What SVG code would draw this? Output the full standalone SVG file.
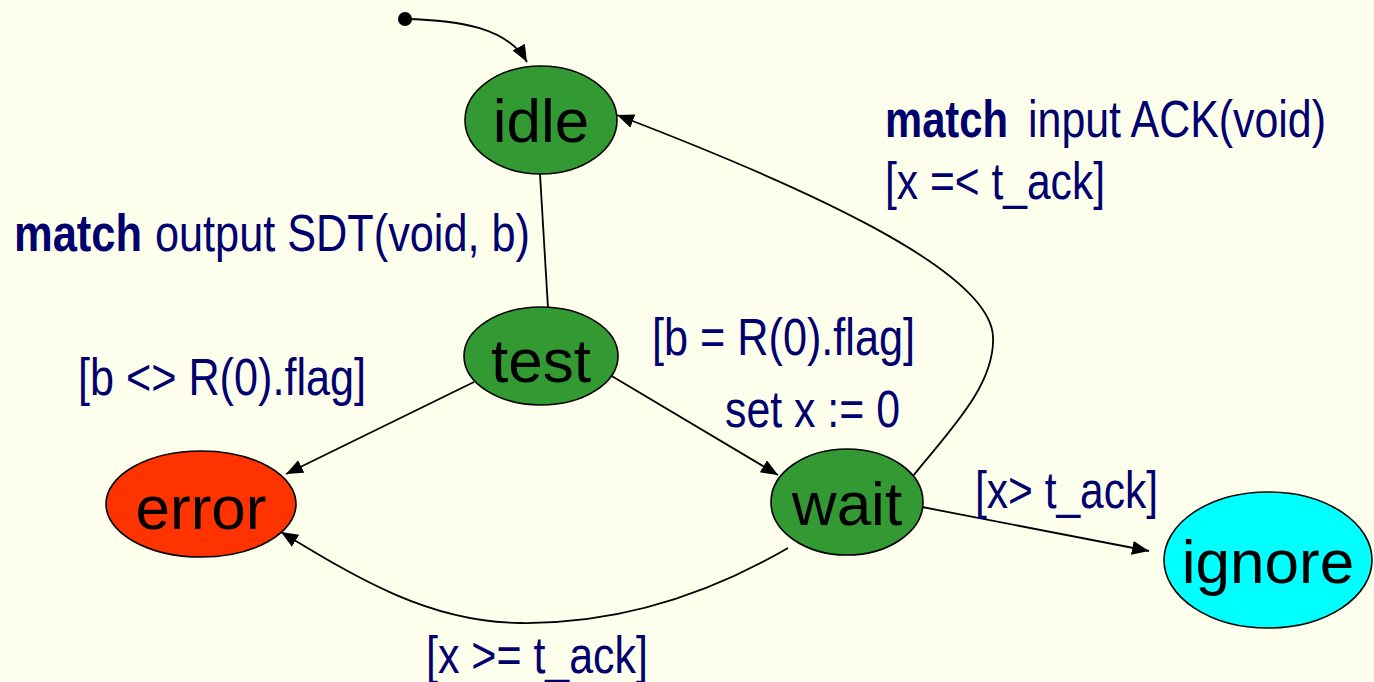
<svg xmlns="http://www.w3.org/2000/svg" width="1374" height="682" viewBox="0 0 1374 682">
<style>
.node ellipse{stroke:#000;stroke-width:1.6}
.nt{font-family:"Liberation Sans",Arial,sans-serif;font-size:62px;fill:#000;text-anchor:middle}
.lb{font-family:"Liberation Sans Narrow","Liberation Sans",Arial,sans-serif;font-size:52px;fill:#00006e}
.b{font-weight:bold}
#connectors path,#connectors line{fill:none;stroke:#000;stroke-width:1.8}
</style>
<defs>
<marker id="ah" markerUnits="userSpaceOnUse" markerWidth="20" markerHeight="16" refX="17" refY="7" orient="auto">
<path d="M0,0 L17,7 L0,14 Z" fill="#000"/>
</marker>
</defs>
<rect width="1374" height="682" fill="#fefeec"/>
<g id="connectors">
<circle cx="405" cy="19" r="7" fill="#000"/>
<path d="M405,19 C460,20 508,28 527,62" marker-end="url(#ah)"/>
<line x1="540" y1="174" x2="548" y2="308"/>
<line x1="474" y1="382" x2="286" y2="474" marker-end="url(#ah)"/>
<line x1="610" y1="375" x2="778" y2="475" marker-end="url(#ah)"/>
<path d="M788,548 C690,605 600,624 520,623 C430,622 360,580 281,532" marker-end="url(#ah)"/>
<path d="M913,476 C950,430 995,385 993,337 C991,270 800,185 617,115" marker-end="url(#ah)"/>
<line x1="922" y1="507" x2="1149" y2="551" marker-end="url(#ah)"/>
</g>
<g id="idle" class="node"><ellipse cx="541" cy="120" rx="76" ry="54" fill="#339933"/><text class="nt" x="541" y="142">idle</text></g>
<g id="test" class="node"><ellipse cx="541" cy="356" rx="77" ry="49" fill="#339933"/><text class="nt" x="541" y="382">test</text></g>
<g id="error" class="node"><ellipse cx="201" cy="504" rx="95" ry="53" fill="#ff3300"/><text class="nt" x="201" y="529">error</text></g>
<g id="wait" class="node"><ellipse cx="847" cy="502" rx="76" ry="53" fill="#339933"/><text class="nt" x="847" y="525">wait</text></g>
<g id="ignore" class="node"><ellipse cx="1268" cy="560" rx="104" ry="68" fill="#00ffff"/><text class="nt" x="1268" y="583">ignore</text></g>
<g id="labels">
<text class="lb b" x="14" y="251" textLength="128" lengthAdjust="spacingAndGlyphs">match</text>
<text class="lb" x="155" y="251" textLength="375" lengthAdjust="spacingAndGlyphs">output SDT(void, b)</text>
<text class="lb b" x="885" y="137" textLength="123" lengthAdjust="spacingAndGlyphs">match</text>
<text class="lb" x="1028" y="137" textLength="298" lengthAdjust="spacingAndGlyphs">input ACK(void)</text>
<text class="lb" x="885" y="199" textLength="220" lengthAdjust="spacingAndGlyphs">[x =&lt; t_ack]</text>
<text class="lb" x="78" y="395" textLength="288" lengthAdjust="spacingAndGlyphs">[b &lt;&gt; R(0).flag]</text>
<text class="lb" x="652" y="355" textLength="263" lengthAdjust="spacingAndGlyphs">[b = R(0).flag]</text>
<text class="lb" x="725" y="427" textLength="175" lengthAdjust="spacingAndGlyphs">set x := 0</text>
<text class="lb" x="975" y="508" textLength="183" lengthAdjust="spacingAndGlyphs">[x&gt; t_ack]</text>
<text class="lb" x="426" y="673" textLength="222" lengthAdjust="spacingAndGlyphs">[x &gt;= t_ack]</text>
</g>
</svg>
